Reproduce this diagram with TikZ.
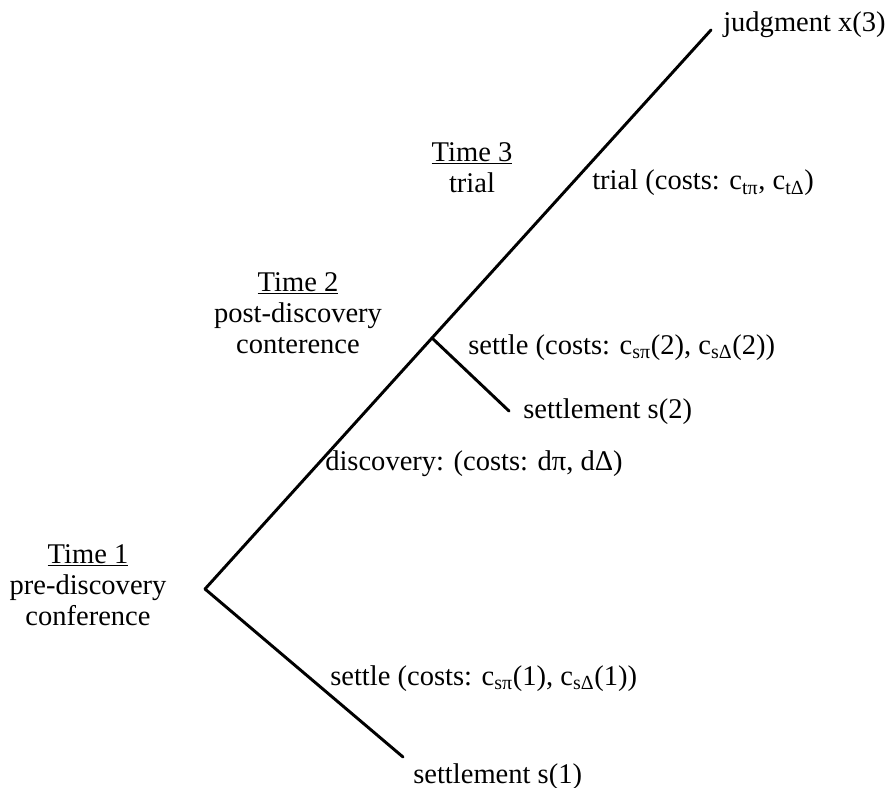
\documentclass[tikz,border=0pt]{standalone}
\usepackage{fontspec}
\setmainfont{Liberation Serif}
\newcommand{\cst}[1]{c\textsubscript{#1}}

\begin{document}
\begin{tikzpicture}[x=0.75pt,y=0.75pt,yscale=-1,xscale=1,
  branch/.style={line width=2.2pt, line cap=round},
  lbl/.style={anchor=base west, inner sep=0pt, font=\fontsize{21.4}{26}\selectfont},
  timelbl/.style={anchor=base, align=center, inner sep=0pt, font=\fontsize{21.4}{23.2}\selectfont}]
\path[use as bounding box] (0,0) rectangle (892,788);

% decision points and ends
\coordinate (t1) at (205,589);
\coordinate (t2) at (432,338);
\coordinate (x3) at (711,30);
\coordinate (s2) at (509,411);
\coordinate (s1) at (403,757);

% tree
\draw[branch] (t1) -- (t2) -- (x3);
\draw[branch] (t2) -- (s2);
\draw[branch] (t1) -- (s1);

% outcome labels
\node[lbl] (judg) at (723,32) {judgment x(3)};
\node[lbl] (sett2) at (523,418) {settlement s(2)};
\node[lbl] (sett1) at (413,783) {settlement s(1)};

% move labels
\node[lbl] (trial) at (592,190) {trial (costs: \cst{tπ}, \cst{tΔ})};
\node[lbl] (settle2) at (468,354) {settle (costs: \cst{sπ}(2), \cst{sΔ}(2))};
\node[lbl] (disc) at (325,470) {discovery: (costs: dπ, dΔ)};
\node[lbl] (settle1) at (330,685) {settle (costs: \cst{sπ}(1), \cst{sΔ}(1))};

% time labels (base = last line)
\node[timelbl] (time1) at (88,625) {\underline{Time 1}\\pre-discovery\\conference};
\node[timelbl] (time2) at (298,353) {\underline{Time 2}\\post-discovery\\conterence};
\node[timelbl] (time3) at (472,192) {\underline{Time 3}\\trial};
\end{tikzpicture}
\end{document}
